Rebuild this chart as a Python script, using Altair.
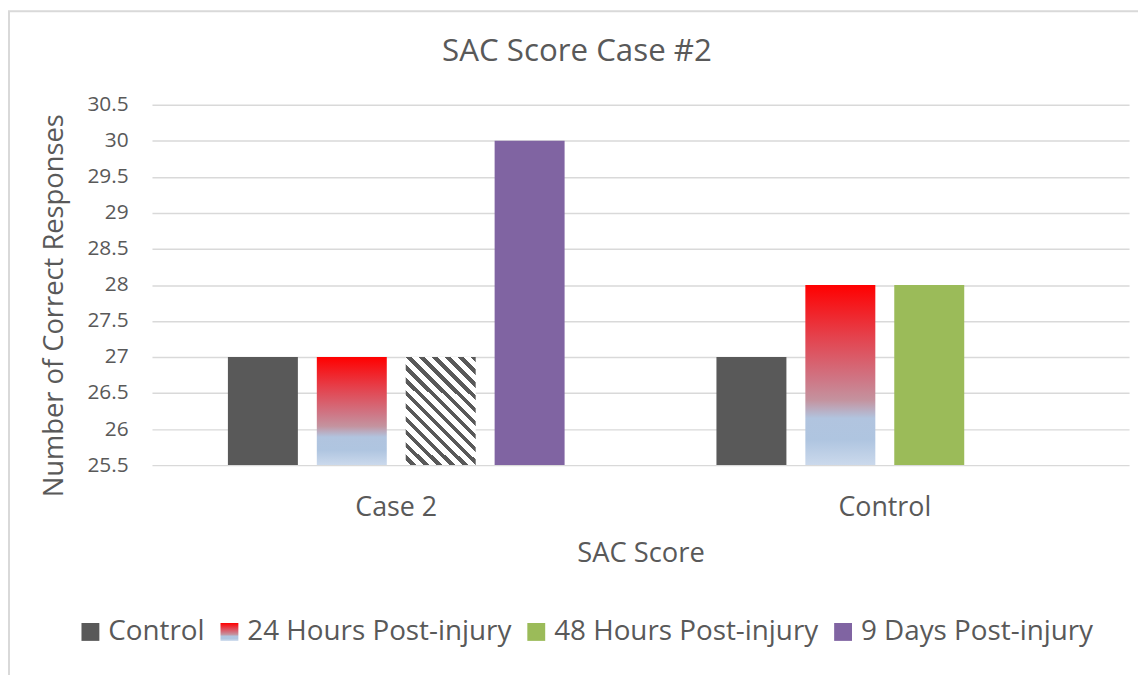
import altair as alt
import pandas as pd

# ---------------- data ----------------
groups = ["Case 2", "Control"]
series = ["Control", "24 Hours Post-injury", "48 Hours Post-injury", "9 Days Post-injury"]
case2_scores = [27, 27, 27, 30]
control_scores = [27, 28, 28, None]          # no 9-day bar for the control
hatched_bars = [("Case 2", "48 Hours Post-injury")]
y_ticks = [25.5, 26, 26.5, 27, 27.5, 28, 28.5, 29, 29.5, 30, 30.5]

# ---------------- styles ----------------
TEXT = "#595959"
FONT = "Open Sans"
GRID = "#D9D9D9"

red_blue_stops = [(0.0, "#FF0000"), (0.28, "#E5404B"), (0.52, "#CF7584"),
                  (0.64, "#C4939F"), (0.74, "#B1C4DF"), (0.86, "#AFC5E0"),
                  (1.0, "#CBD9EC")]


def gradient_expr(stops):
    inner = ",".join("{offset:%g,color:'%s'}" % (o, c) for o, c in stops)
    return "{gradient:'linear',x1:0,y1:0,x2:0,y2:1,stops:[" + inner + "]}"


series_range = ["#595959", {"expr": gradient_expr(red_blue_stops)}, "#9BBB59", "#8064A2"]

# diagonal hatch (dark/white stripes) as a hard-stop gradient
BW, BH = 70.0, 109.0          # approx. bar size in px (style only)
PERIOD, DARK = 13.0, 5.5
k = (BW + BH) / (BW * BW + BH * BH)
total = BW + BH
hatch_stops = []
start = -BH - ((-BH) % PERIOD)
p = start
while p < BW + PERIOD:
    for a, b, col in ((p, p + DARK, TEXT), (p + DARK, p + PERIOD, "#FFFFFF")):
        lo = max(a, -BH)
        hi = min(b, BW)
        if hi <= lo:
            continue
        o1 = (lo + BH) / total
        o2 = (hi + BH) / total
        hatch_stops.append(alt.GradientStop(offset=round(o1, 5), color=col))
        hatch_stops.append(alt.GradientStop(offset=round(o2, 5), color=col))
    p += PERIOD
hatch_fill = alt.LinearGradient(gradient="linear", stops=hatch_stops,
                                x1=0, y1=1, x2=round(k * BW, 5), y2=round(1 - k * BH, 5))

# ---------------- table ----------------
rows = []
for g, vals in zip(groups, [case2_scores, control_scores]):
    for s, v in zip(series, vals):
        if v is None:
            continue
        rows.append({"group": g, "series": s, "score": v, "hatched": (g, s) in hatched_bars})
df = pd.DataFrame(rows)

base = alt.Chart(df).encode(
    x=alt.X("group:N", sort=groups,
            scale=alt.Scale(domain=groups, paddingInner=0, paddingOuter=0),
            axis=alt.Axis(title="SAC Score", labelAngle=0, ticks=False, domain=False, grid=False,
                          labelFontSize=27, labelFont=FONT, labelColor=TEXT, labelPadding=30,
                          titleFontSize=27.5, titleFont=FONT, titleColor=TEXT,
                          titleFontWeight="normal", titlePadding=19)),
    xOffset=alt.XOffset("series:N", sort=series,
                        scale=alt.Scale(domain=series, paddingInner=0.213, paddingOuter=0.854)),
    y=alt.Y("score:Q",
            scale=alt.Scale(domain=[y_ticks[0], y_ticks[-1]], zero=False, nice=False),
            axis=alt.Axis(title="Number of Correct Responses", values=y_ticks, format="~g",
                          ticks=False, domain=False, gridColor=GRID, gridWidth=1.5,
                          labelFontSize=21, labelFont=FONT, labelColor=TEXT, labelPadding=24,
                          titleFontSize=27.5, titleFont=FONT, titleColor=TEXT,
                          titleFontWeight="normal", titlePadding=19, titleY=202)),
    y2=alt.datum(y_ticks[0]),
)

bars = base.transform_filter("!datum.hatched").mark_bar().encode(
    color=alt.Color("series:N", sort=series,
                    scale=alt.Scale(domain=series, range=series_range),
                    legend=alt.Legend(title=None, orient="none", legendX=-76, legendY=517,
                                      direction="horizontal", symbolType="square",
                                      symbolSize=324, symbolStrokeWidth=0,
                                      labelFontSize=28, labelFont=FONT, labelColor=TEXT,
                                      labelOffset=4, columnPadding=11, padding=0,
                                      labelLimit=400))
)

hatch = base.transform_filter("datum.hatched").mark_bar(fill=hatch_fill)

border = alt.Chart(pd.DataFrame({"k": [0]})).mark_rect(
    filled=False, stroke=GRID, strokeWidth=2
).encode(x=alt.value(-144), x2=alt.value(1010), y=alt.value(-94), y2=alt.value(700))

chart = alt.layer(border, bars, hatch).properties(
    width=984, height=363,
    title=alt.TitleParams("SAC Score Case #2", fontSize=31.5, font=FONT, color=TEXT,
                          fontWeight="normal", anchor="middle", dx=-64,
                          baseline="alphabetic", offset=-83),
    autosize=alt.AutoSizeParams(type="none"),
    padding={"left": 145, "top": 95, "right": 9, "bottom": 209},
    background="white",
).configure_view(strokeWidth=0)

chart.save("out.html", embed_options={"renderer": "svg", "actions": False})
